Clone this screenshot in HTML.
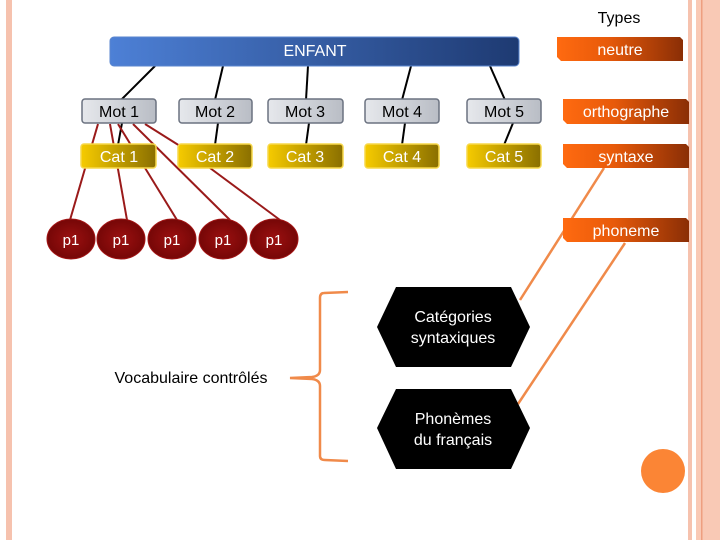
<!DOCTYPE html>
<html><head><meta charset="utf-8"><style>
body{margin:0;background:#fff}
svg text{font-family:"Liberation Sans",sans-serif}
</style></head><body>
<svg width="720" height="540" viewBox="0 0 720 540" xmlns="http://www.w3.org/2000/svg">
<defs>
<linearGradient id="blue" x1="0" x2="1"><stop offset="0" stop-color="#4d80d6"/><stop offset="1" stop-color="#1e3a72"/></linearGradient>
<linearGradient id="org" x1="0" x2="1"><stop offset="0" stop-color="#ff6a10"/><stop offset="0.4" stop-color="#e85a0a"/><stop offset="1" stop-color="#8a2e05"/></linearGradient>
<linearGradient id="gray" x1="0" x2="1"><stop offset="0" stop-color="#e6e8ec"/><stop offset="1" stop-color="#b9bdc5"/></linearGradient>
<linearGradient id="yel" x1="0" x2="1"><stop offset="0" stop-color="#f6cb00"/><stop offset="1" stop-color="#8a6f00"/></linearGradient>
<radialGradient id="red" cx="0.5" cy="0.5" r="0.6"><stop offset="0" stop-color="#9c1010"/><stop offset="1" stop-color="#6e0505"/></radialGradient>
</defs>
<!-- borders -->
<rect x="6" y="0" width="6" height="540" fill="#f6c2ae"/>
<rect x="688" y="0" width="4" height="540" fill="#f6c2ae"/>
<rect x="696" y="0" width="24" height="540" fill="#f9c9b5"/>
<rect x="701" y="0" width="1.5" height="540" fill="#ee9f80"/>
<!-- black lines -->
<g stroke="#000" stroke-width="2">
<line x1="155" y1="66" x2="121" y2="100"/><line x1="223" y1="66" x2="215" y2="100"/>
<line x1="308" y1="66" x2="306" y2="100"/><line x1="411" y1="66" x2="402" y2="100"/>
<line x1="490" y1="66" x2="505" y2="100"/>
<line x1="122" y1="123" x2="118" y2="145"/><line x1="218" y1="123" x2="215" y2="145"/>
<line x1="309" y1="123" x2="306" y2="145"/><line x1="405" y1="123" x2="402" y2="145"/>
<line x1="513" y1="123" x2="504" y2="145"/>
</g>
<!-- red lines -->
<g stroke="#9a1a1a" stroke-width="2">
<line x1="98" y1="124" x2="70" y2="220"/><line x1="110" y1="124" x2="127" y2="220"/>
<line x1="118" y1="124" x2="177" y2="220"/><line x1="133" y1="124" x2="230" y2="220"/>
<line x1="145" y1="124" x2="180" y2="146"/><line x1="210" y1="168" x2="280" y2="220"/>
</g>
<!-- orange lines -->
<g stroke="#f08a4a" stroke-width="2.5" fill="none">
<line x1="604" y1="168" x2="520" y2="300"/>
<line x1="625" y1="243" x2="518" y2="404"/>
<path d="M348 292 L324 293 Q320 293 320 298 L320 370 Q320 376 312 377 L290 378 L312 379 Q320 380 320 386 L320 456 Q320 460 325 460 L348 461"/>
</g>
<!-- ENFANT -->
<rect x="110" y="37" width="409" height="29" rx="4" fill="url(#blue)" stroke="#5a86cf" stroke-width="1"/>
<text x="315" y="56" fill="#fff" font-size="16" text-anchor="middle">ENFANT</text>
<text x="619" y="23" fill="#000" font-size="16" text-anchor="middle">Types</text>
<!-- orange tags -->
<g fill="url(#org)">
<path d="M557 37 H680 L683 40 V61 H561 L557 57 Z"/>
<path d="M563 99 H686 L689 102 V124 H567 L563 120 Z"/>
<path d="M563 144 H686 L689 147 V168 H567 L563 164 Z"/>
<path d="M563 218 H686 L689 221 V242 H567 L563 238 Z"/>
</g>
<g fill="#fff" font-size="16" text-anchor="middle">
<text x="620" y="55">neutre</text>
<text x="626" y="117">orthographe</text>
<text x="626" y="162">syntaxe</text>
<text x="626" y="236">phoneme</text>
</g>
<!-- Mot boxes -->
<g fill="url(#gray)" stroke="#6b7280" stroke-width="1.5">
<rect x="82" y="99" width="74" height="24" rx="3"/><rect x="179" y="99" width="73" height="24" rx="3"/>
<rect x="268" y="99" width="75" height="24" rx="3"/><rect x="365" y="99" width="74" height="24" rx="3"/>
<rect x="467" y="99" width="74" height="24" rx="3"/>
</g>
<g fill="#000" font-size="16" text-anchor="middle">
<text x="119" y="117">Mot 1</text><text x="215" y="117">Mot 2</text><text x="305" y="117">Mot 3</text>
<text x="402" y="117">Mot 4</text><text x="504" y="117">Mot 5</text>
</g>
<g fill="url(#yel)" stroke="#f7d84a" stroke-width="1.5">
<rect x="81" y="144" width="75" height="24" rx="3"/><rect x="178" y="144" width="74" height="24" rx="3"/>
<rect x="268" y="144" width="75" height="24" rx="3"/><rect x="365" y="144" width="74" height="24" rx="3"/>
<rect x="467" y="144" width="74" height="24" rx="3"/>
</g>
<g fill="#fff" font-size="16" text-anchor="middle">
<text x="119" y="162">Cat 1</text><text x="215" y="162">Cat 2</text><text x="305" y="162">Cat 3</text>
<text x="402" y="162">Cat 4</text><text x="504" y="162">Cat 5</text>
</g>
<!-- p1 -->
<g fill="url(#red)" stroke="#a31515" stroke-width="1">
<ellipse cx="71" cy="239" rx="24" ry="20"/><ellipse cx="121" cy="239" rx="24" ry="20"/>
<ellipse cx="172" cy="239" rx="24" ry="20"/><ellipse cx="223" cy="239" rx="24" ry="20"/>
<ellipse cx="274" cy="239" rx="24" ry="20"/>
</g>
<g fill="#fff" font-size="15" text-anchor="middle">
<text x="71" y="245">p1</text><text x="121" y="245">p1</text><text x="172" y="245">p1</text>
<text x="223" y="245">p1</text><text x="274" y="245">p1</text>
</g>
<!-- hexagons -->
<path d="M396 287 H511 L530 327 L511 367 H396 L377 327 Z" fill="#000"/>
<path d="M396 389 H511 L530 428 L511 469 H396 L377 428 Z" fill="#000"/>
<g fill="#fff" font-size="16" text-anchor="middle">
<text x="453" y="322">Catégories</text><text x="453" y="343">syntaxiques</text>
<text x="453" y="424">Phonèmes</text><text x="453" y="445">du français</text>
</g>
<text x="191" y="383" fill="#000" font-size="16" text-anchor="middle">Vocabulaire contrôlés</text>
<circle cx="663" cy="471" r="22" fill="#fb8535"/>
</svg>
</body></html>
